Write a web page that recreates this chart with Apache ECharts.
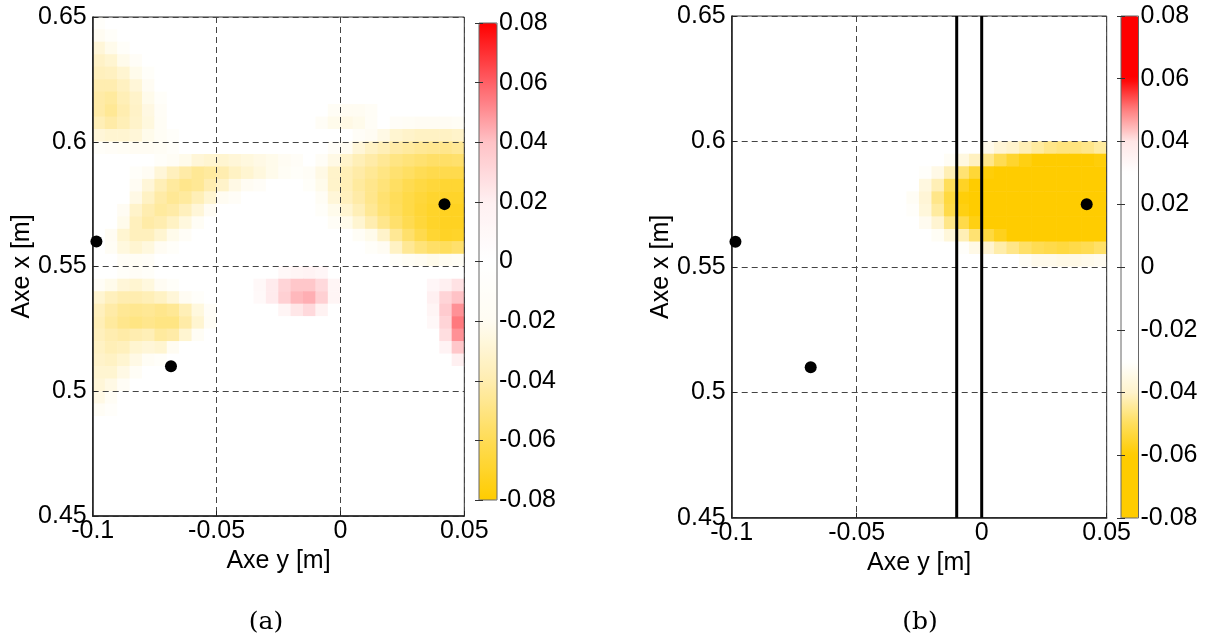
<!DOCTYPE html>
<html><head><meta charset="utf-8">
<script src="https://cdn.jsdelivr.net/npm/echarts@6/dist/echarts.min.js"></script>
<style>html,body{margin:0;padding:0;background:#fff}#c{width:1210px;height:644px}</style>
</head><body><div id="c"></div>
<script>
// ---- data ----
// cell centres along "Axe y" (horizontal) and "Axe x" (vertical, top -> bottom)
const hCells = [-0.0975,-0.0925,-0.0875,-0.0825,-0.0775,-0.0725,-0.0675,-0.0625,-0.0575,-0.0525,-0.0475,-0.0425,-0.0375,-0.0325,-0.0275,-0.0225,-0.0175,-0.0125,-0.0075,-0.0025,0.0025,0.0075,0.0125,0.0175,0.0225,0.0275,0.0325,0.0375,0.0425,0.0475];
const vCells = [0.6475,0.6425,0.6375,0.6325,0.6275,0.6225,0.6175,0.6125,0.6075,0.6025,0.5975,0.5925,0.5875,0.5825,0.5775,0.5725,0.5675,0.5625,0.5575,0.5525,0.5475,0.5425,0.5375,0.5325,0.5275,0.5225,0.5175,0.5125,0.5075,0.5025,0.4975,0.4925,0.4875,0.4825,0.4775,0.4725,0.4675,0.4625,0.4575,0.4525];
const hTicks = [-0.1, -0.05, 0, 0.05];
const vTicks = [0.45, 0.5, 0.55, 0.6, 0.65];
const cbarTicks = [-0.08, -0.06, -0.04, -0.02, 0, 0.02, 0.04, 0.06, 0.08];
const valueUnit = 0.001; // field values below are in thousandths
// field (a): runs [rowIndex (top=0), firstColumn, values...]; other cells ~0
const fieldA = [
 [0,0,[-8]],
 [1,0,[-20,-10]],
 [2,0,[-28,-22,-10]],
 [3,0,[-33,-30,-22,-12]],
 [4,0,[-36,-35,-30,-22,-10]],
 [5,0,[-40,-40,-35,-28,-18]],
 [6,0,[-42,-44,-38,-32,-22,-10]],
 [7,0,[-42,-46,-40,-33,-25,-14]], [7,19,[-15,-20,-20,-14]],
 [8,0,[-38,-42,-38,-32,-26,-16]], [8,18,[-14,-22,-24,-22,-14,0,-12,-15,-18,-18,-18,-16]],
 [9,0,[-28,-30,-30,-28,-22,-15,-8]], [9,21,[-12,-18,-24,-30,-32,-34,-34,-34,-32]],
 [10,0,[-10,-12,-15,-18,-18,-15,-10]], [10,19,[-12,-20,-28,-34,-38,-42,-44,-46,-47,-48,-46]],
 [11,5,[-10,-16,-22,-28,-30,-30,-28,-26,-24,-22,-18,-12]], [11,18,[-14,-24,-32,-38,-42,-46,-50,-52,-54,-56,-56,-55]],
 [12,3,[-10,-18,-28,-36,-42,-46,-44,-40,-34,-30,-26,-22,-16,-10]], [12,17,[-14,-24,-32,-38,-42,-46,-50,-54,-57,-60,-62,-62,-62]],
 [13,3,[-18,-28,-38,-44,-48,-46,-40,-32,-24,-18,-12]], [13,17,[-10,-22,-32,-38,-44,-48,-52,-57,-61,-64,-66,-68,-68]],
 [14,3,[-24,-34,-42,-46,-44,-38,-30,-20,-12]], [14,18,[-16,-28,-36,-42,-48,-54,-59,-63,-66,-69,-70,-70]],
 [15,2,[-18,-32,-40,-44,-42,-36,-28,-18]], [15,18,[-10,-22,-30,-38,-46,-53,-58,-63,-67,-70,-72,-72]],
 [16,2,[-22,-36,-42,-40,-34,-26,-16]], [16,19,[-14,-22,-30,-40,-48,-55,-61,-66,-70,-72,-72]],
 [17,1,[-18,-30,-36,-36,-30,-22,-12]], [17,21,[-14,-22,-32,-46,-55,-62,-68,-71,-70]],
 [18,1,[-15,-26,-30,-26,-18,-10]], [18,22,[-10,-18,-34,-46,-52,-56,-58,-55]],
 [19,2,[-14,-16,-12]], [19,24,[-10,-16,-20,-22,-20,-16]],
 [20,2,[-10,-14,-10]], [20,15,[10,14,16,12]],
 [21,0,[-14,-22,-28,-30,-26,-18,-10]], [21,13,[10,22,32,38,38,30,14]], [21,27,[12,20,26]],
 [22,0,[-30,-36,-40,-40,-38,-34,-28,-18,-8]], [22,13,[8,22,34,42,44,34,14]], [22,27,[20,32,40]],
 [23,0,[-36,-42,-46,-47,-46,-48,-46,-38,-26,-12]], [23,15,[14,24,30,18]], [23,27,[14,36,50]],
 [24,0,[-38,-44,-48,-50,-48,-50,-50,-42,-30,-16]], [24,27,[10,32,55]],
 [25,0,[-36,-40,-42,-40,-38,-44,-42,-30,-16]], [25,28,[28,50]],
 [26,0,[-34,-38,-36,-30,-28,-30,-20]], [26,28,[16,38]],
 [27,0,[-32,-34,-30,-24,-16,-10]], [27,29,[20]],
 [28,0,[-30,-30,-24,-14]],
 [29,0,[-28,-24,-14]],
 [30,0,[-24,-16]],
 [31,0,[-16,-8]]
];
// field (b)
const fieldB = [
 [8,18,[-10,-11,-11,-12,-13,-14,-14,-15,-15,-15,-14,-14]],
 [9,15,[-10,-11,-14,-16,-19,-21,-22,-24,-26,-28,-30,-30,-30,-30,-28]],
 [10,13,[-11,-13,-16,-19,-22,-26,-29,-34,-38,-40,-42,-44,-46,-47,-47,-46,-44]],
 [11,12,[-12,-16,-19,-23,-28,-32,-36,-41,-46,-51,-55,-58,-60,-61,-62,-62,-61,-59]],
 [12,11,[-12,-16,-21,-25,-31,-35,-42,-48,-54,-59,-64,-68,-72,-75,-76,-77,-77,-75,-73]],
 [13,10,[-11,-15,-20,-24,-30,-36,-42,-50,-56,-62,-68,-74,-79,-80,-80,-80,-80,-80,-80,-80]],
 [14,10,[-12,-16,-21,-26,-32,-38,-46,-53,-59,-66,-73,-79,-80,-80,-80,-80,-80,-80,-80,-80]],
 [15,10,[-12,-16,-21,-25,-31,-37,-44,-52,-58,-65,-71,-77,-80,-80,-80,-80,-80,-80,-80,-80]],
 [16,10,[-11,-14,-18,-22,-28,-33,-39,-46,-52,-58,-64,-69,-74,-78,-80,-80,-80,-80,-80,-79]],
 [17,11,[-11,-14,-18,-22,-27,-32,-37,-42,-48,-53,-57,-61,-64,-67,-68,-69,-69,-67,-65]],
 [18,12,[-10,-13,-16,-20,-23,-27,-31,-35,-39,-43,-46,-49,-51,-52,-53,-52,-51,-49]],
 [19,15,[-12,-15,-18,-21,-23,-26,-28,-30,-32,-34,-34,-35,-35,-34,-33]],
 [20,17,[-11,-12,-13,-15,-17,-19,-20,-21,-21,-21,-21,-21,-20]]
];
const sensorH = [-0.0985, -0.0684, 0.042];
const sensorV = [0.56, 0.51, 0.575];
const wallH = [-0.01, 0];
const cmapA = ['#FFCC00','#FFDC55','#FFEDB0','#FFFCF2','#FFFFFF','#FFF0F1','#FFC2C6','#FF6066','#FF0000'];
const cmapB = ['#FFCC00','#FFCC00','#FFCC00','#FFDE5C','#FFF3CC','#FFFFFF','#FFFFFF','#FFFFFF','#FFFFFF','#FFFFFF','#FFFFFF','#FFFFFF','#FFE6E6','#FF8080','#FF0000','#FF0000','#FF0000'];

// ---- build ----
function buildHeat(runs){
  const g = vCells.map(()=>hCells.map(()=>0));
  runs.forEach(([r,c,vals])=>vals.forEach((v,i)=>{ g[r][c+i]=v; }));
  const out=[];
  g.forEach((row,r)=>row.forEach((v,c)=>out.push([c, vCells.length-1-r, +(v*valueUnit).toFixed(4)])));
  return out;
}
const FONT = 'Liberation Sans';
const FS = 25;
const L = {
  a:{left:92.7, top:17, width:371.6, height:499},
  b:{left:731.7, top:16, width:375, height:501.7},
  ca:{left:479, top:23, width:18, height:477},
  cb:{left:1121, top:16, width:17.5, height:502}
};
const yCats = vCells.slice().reverse();
const grids = [
  Object.assign({show:false}, L.a),
  Object.assign({show:true, borderColor:'#333', borderWidth:1, backgroundColor:'transparent', z:10}, L.a),
  Object.assign({show:false}, L.b),
  Object.assign({show:true, borderColor:'#333', borderWidth:1, backgroundColor:'transparent', z:10}, L.b),
  Object.assign({show:true, borderColor:'#666', borderWidth:1, backgroundColor:'transparent', z:10}, L.ca),
  Object.assign({show:true, borderColor:'#666', borderWidth:1, backgroundColor:'transparent', z:10}, L.cb)
];
const labelStyle = {color:'#000', fontFamily:FONT, fontSize:FS};
function catX(gi){ return {type:'category', gridIndex:gi, data:hCells, show:false, boundaryGap:true}; }
function catY(gi){ return {type:'category', gridIndex:gi, data:yCats, show:false, boundaryGap:true}; }
function frameX(gi){
  return {type:'value', gridIndex:gi, min:hTicks[0], max:hTicks[hTicks.length-1], interval:0.05, z:10,
    axisLine:{show:true, onZero:false, lineStyle:{color:'#222', width:1.5}},
    axisTick:{show:true, inside:true, length:5, lineStyle:{color:'#222'}},
    axisLabel:Object.assign({margin:3}, labelStyle),
    splitLine:{show:true, lineStyle:{color:'#444', type:[6,4], width:1}},
    name:'Axe y [m]', nameLocation:'middle', nameGap:29, nameTextStyle:Object.assign({}, labelStyle)};
}
function frameY(gi){
  return {type:'value', gridIndex:gi, min:vTicks[0], max:vTicks[vTicks.length-1], interval:0.05, z:10,
    axisLine:{show:true, onZero:false, lineStyle:{color:'#222', width:1.5}},
    axisTick:{show:true, inside:true, length:5, lineStyle:{color:'#222'}},
    axisLabel:Object.assign({margin:6}, labelStyle),
    splitLine:{show:true, lineStyle:{color:'#444', type:[6,4], width:1}},
    name:'Axe x [m]', nameLocation:'middle', nameGap:54, nameTextStyle:Object.assign({}, labelStyle)};
}
function cbarX(gi){ return {type:'value', gridIndex:gi, min:0, max:1, show:false}; }
function cbarY(gi){
  return {type:'value', gridIndex:gi, position:'right', min:cbarTicks[0], max:cbarTicks[cbarTicks.length-1], interval:0.02, z:10,
    axisLine:{show:false}, axisTick:{show:true, inside:true, length:4, lineStyle:{color:'#333'}},
    axisLabel:Object.assign({margin:2}, labelStyle), splitLine:{show:false}};
}
function cbarYLeft(gi){
  return {type:'value', gridIndex:gi, position:'left', min:cbarTicks[0], max:cbarTicks[cbarTicks.length-1], interval:0.02, z:10,
    axisLine:{show:false}, axisTick:{show:true, inside:true, length:4, lineStyle:{color:'#333'}},
    axisLabel:{show:false}, splitLine:{show:false}};
}
function sensors(xi){
  return {type:'scatter', xAxisIndex:xi, yAxisIndex:xi, z:20, symbolSize:12, itemStyle:{color:'#000', opacity:1},
    data: sensorH.map((h,i)=>[h, sensorV[i]]), silent:true};
}
const series = [
  {type:'heatmap', xAxisIndex:0, yAxisIndex:0, data:buildHeat(fieldA), progressive:0, silent:true},
  {type:'heatmap', xAxisIndex:2, yAxisIndex:2, data:buildHeat(fieldB), progressive:0, silent:true},
  sensors(1), sensors(3)
];
wallH.forEach(h=>series.push({type:'line', xAxisIndex:3, yAxisIndex:3, z:15, symbol:'none', silent:true,
  lineStyle:{color:'#000', width:3}, data:[[h, vTicks[0]],[h, vTicks[vTicks.length-1]]]}));

const option = {
  animation:false,
  backgroundColor:'#fff',
  grid: grids,
  xAxis: [catX(0), frameX(1), catX(2), frameX(3), cbarX(4), cbarX(5), cbarX(4), cbarX(5)],
  yAxis: [catY(0), frameY(1), catY(2), frameY(3), cbarY(4), cbarY(5), cbarYLeft(4), cbarYLeft(5)],
  visualMap: [
    {type:'continuous', seriesIndex:0, min:cbarTicks[0], max:cbarTicks[cbarTicks.length-1], inRange:{color:cmapA},
     left:L.ca.left, top:L.ca.top, itemWidth:L.ca.width, itemHeight:L.ca.height, padding:0, calculable:false, hoverLink:false},
    {type:'continuous', seriesIndex:1, min:cbarTicks[0], max:cbarTicks[cbarTicks.length-1], inRange:{color:cmapB},
     left:L.cb.left, top:L.cb.top, itemWidth:L.cb.width, itemHeight:L.cb.height, padding:0, calculable:false, hoverLink:false}
  ],
  graphic: [
    {type:'text', x:266, y:622, style:{text:'(a)', font:'25px "DejaVu Serif"', fill:'#000', textAlign:'center', textVerticalAlign:'middle', align:'center', verticalAlign:'middle'}},
    {type:'text', x:920, y:622, style:{text:'(b)', font:'25px "DejaVu Serif"', fill:'#000', textAlign:'center', textVerticalAlign:'middle', align:'center', verticalAlign:'middle'}}
  ],
  series: series
};
const chart = echarts.init(document.getElementById('c'), null, {renderer:'canvas'});
chart.setOption(option);
</script></body></html>
